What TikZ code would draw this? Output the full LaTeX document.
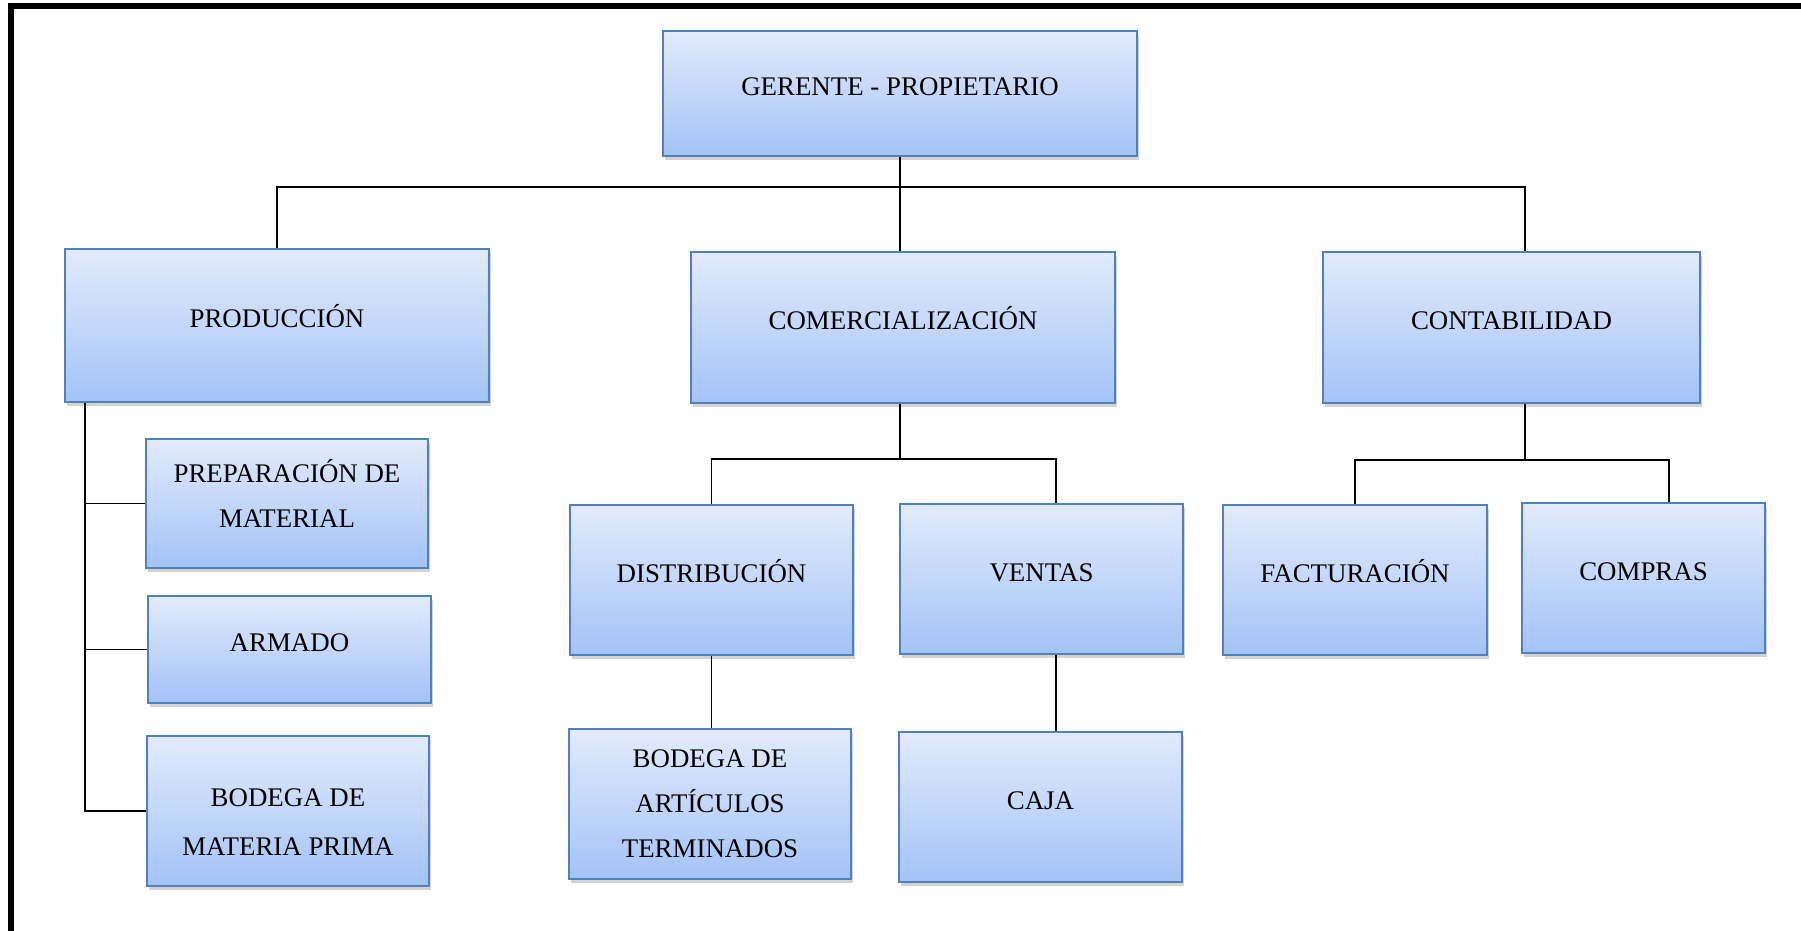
\documentclass[tikz,border=0pt]{standalone}
\usepackage{fontspec}
\setmainfont{Liberation Serif}
\usepackage{xcolor}
\usetikzlibrary{positioning,shadows}
\definecolor{boxline}{RGB}{79,129,189}
\definecolor{boxtop}{RGB}{226,235,252}
\definecolor{boxbottom}{RGB}{163,195,247}
\tikzset{
  orgbox/.style={draw=boxline,line width=1.1pt,top color=boxtop,bottom color=boxbottom,
    align=center,font=\fontsize{15.3}{25.5}\selectfont,inner sep=2pt,
    drop shadow={shadow xshift=0.04cm,shadow yshift=-0.08cm,opacity=0.35}},
  oneline/.style={text height=0.45cm,text depth=0.36cm},
  link/.style={line width=1.1pt,black}
}

\begin{document}
\begin{tikzpicture}
\useasboundingbox (0,0) rectangle (36.02,-18.62);
\draw[line width=0.12cm] (0.22,-18.8) -- (0.22,-0.13) -- (36.2,-0.13);
\node[orgbox,oneline,minimum width=9.48cm,minimum height=2.5cm] (ger) at (18.0,-1.87) {GERENTE - PROPIETARIO};
\node[orgbox,oneline,minimum width=8.48cm,minimum height=3.06cm] (prod) at (5.54,-6.51) {PRODUCCIÓN};
\node[orgbox,oneline,minimum width=8.48cm,minimum height=3.02cm] (com) at (18.06,-6.55) {COMERCIALIZACIÓN};
\node[orgbox,oneline,minimum width=7.54cm,minimum height=3.02cm] (cont) at (30.23,-6.55) {CONTABILIDAD};
\node[orgbox,text height=1.37cm,text depth=0.4cm,minimum width=5.64cm,minimum height=2.58cm] (prep) at (5.74,-10.07) {PREPARACIÓN DE\\MATERIAL};
\node[orgbox,oneline,minimum width=5.66cm,minimum height=2.14cm] (arm) at (5.79,-12.99) {ARMADO};
\node[orgbox,font=\fontsize{15.3}{27.5}\selectfont,text height=2.17cm,text depth=0.4cm,minimum width=5.64cm,minimum height=3.0cm] (bmp) at (5.76,-16.22) {BODEGA DE\\MATERIA PRIMA};
\node[orgbox,oneline,minimum width=5.66cm,minimum height=3.0cm] (dist) at (14.23,-11.6) {DISTRIBUCIÓN};
\node[orgbox,oneline,minimum width=5.66cm,minimum height=3.0cm] (ventas) at (20.83,-11.58) {VENTAS};
\node[orgbox,minimum width=5.64cm,minimum height=3.0cm] (bat) at (14.2,-16.08) {BODEGA DE\\ARTÍCULOS\\TERMINADOS};
\node[orgbox,oneline,minimum width=5.66cm,minimum height=3.0cm] (caja) at (20.81,-16.14) {CAJA};
\node[orgbox,oneline,minimum width=5.28cm,minimum height=3.0cm] (fact) at (27.1,-11.6) {FACTURACIÓN};
\node[orgbox,oneline,minimum width=4.86cm,minimum height=3.0cm] (compras) at (32.87,-11.56) {COMPRAS};
\coordinate (bus) at (18.0,-3.74);
\coordinate (spine) at ([xshift=0.42cm]prod.south west);
\coordinate (cbus) at (18.0,-9.18);
\coordinate (kbus) at (30.5,-9.2);
\draw[link] (ger.south) -- (bus);
\draw[link] (prod.north) |- (bus) -| ([xshift=0.27cm]cont.north);
\draw[link] (bus) -- (bus |- com.north);
\draw[link] (spine) |- (bmp.west);
\draw[link] (spine |- prep.west) -- (prep.west);
\draw[link] (spine |- arm.west) -- (arm.west);
\draw[link] (cbus |- com.south) -- (cbus);
\draw[link] (dist.north) |- (cbus) -| ([xshift=0.29cm]ventas.north);
\draw[link] (dist.south) -- (dist.south |- bat.north);
\draw[link] ([xshift=0.29cm]ventas.south) -- ([xshift=0.29cm]ventas.south |- caja.north);
\draw[link] (kbus |- cont.south) -- (kbus);
\draw[link] (fact.north) |- (kbus) -| ([xshift=0.51cm]compras.north);
\end{tikzpicture}
\end{document}
